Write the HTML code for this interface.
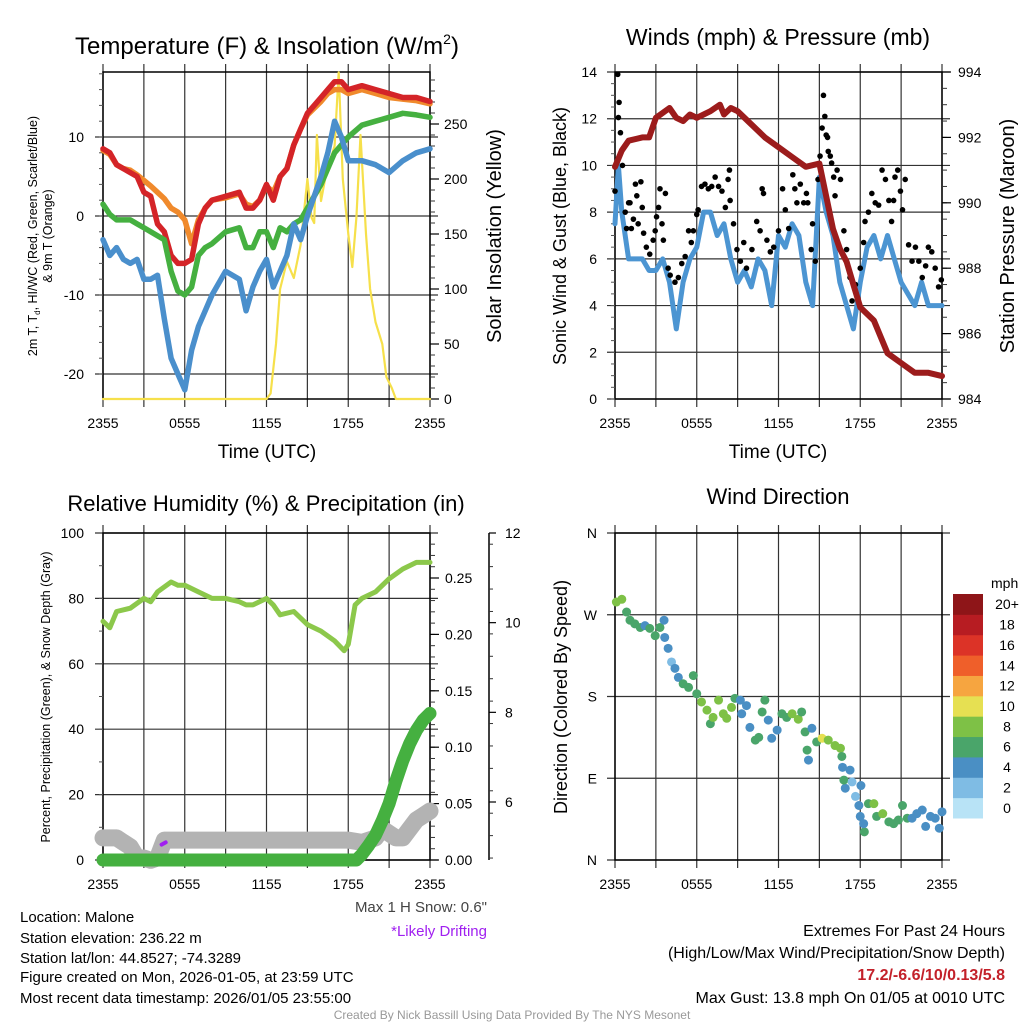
<!DOCTYPE html>
<html><head><meta charset="utf-8">
<style>
html,body{margin:0;padding:0;background:#fff;}
svg{display:block;font-family:"Liberation Sans",sans-serif;}
</style></head>
<body>
<svg id="fig" width="1024" height="1024" viewBox="0 0 1024 1024" xmlns="http://www.w3.org/2000/svg">
<rect width="1024" height="1024" fill="#fff"/>
<text x="267" y="54" font-size="24" text-anchor="middle">Temperature (F) &amp; Insolation (W/m<tspan font-size="14" dy="-10">2</tspan><tspan dy="10">)</tspan></text>
<text x="778" y="45" font-size="23" text-anchor="middle">Winds (mph) &amp; Pressure (mb)</text>
<text x="266" y="511" font-size="22" text-anchor="middle">Relative Humidity (%) &amp; Precipitation (in)</text>
<text x="778" y="504" font-size="22" text-anchor="middle">Wind Direction</text>
<text transform="translate(37,236) rotate(-90)" font-size="12.5" text-anchor="middle">2m T, T<tspan font-size="8" dy="3">d</tspan><tspan dy="-3">, HI/WC (Red, Green, Scarlet/Blue)</tspan></text>
<text transform="translate(52,236) rotate(-90)" font-size="12.5" text-anchor="middle">&amp; 9m T (Orange)</text>
<text transform="translate(501,236) rotate(-90)" font-size="20" text-anchor="middle">Solar Insolation (Yellow)</text>
<text transform="translate(566,236) rotate(-90)" font-size="18" text-anchor="middle">Sonic Wind &amp; Gust (Blue, Black)</text>
<text transform="translate(1014,236) rotate(-90)" font-size="20" text-anchor="middle">Station Pressure (Maroon)</text>
<text transform="translate(50,697) rotate(-90)" font-size="12.5" text-anchor="middle">Percent, Precipitation (Green), &amp; Snow Depth (Gray)</text>
<text transform="translate(567,697) rotate(-90)" font-size="18" text-anchor="middle">Direction (Colored By Speed)</text>
<text x="267" y="458" font-size="19" text-anchor="middle">Time (UTC)</text>
<text x="778" y="458" font-size="19" text-anchor="middle">Time (UTC)</text>
<g font-size="15">
<text x="20" y="922">Location: Malone</text>
<text x="20" y="943">Station elevation: 236.22 m</text>
<text x="20" y="963">Station lat/lon: 44.8527; -74.3289</text>
<text x="20" y="982">Figure created on Mon, 2026-01-05, at 23:59 UTC</text>
<text x="20" y="1003">Most recent data timestamp: 2026/01/05 23:55:00</text>
</g>
<text x="487" y="912" font-size="15" fill="#444" text-anchor="end">Max 1 H Snow: 0.6"</text>
<text x="487" y="936" font-size="15" fill="#a020f0" text-anchor="end">*Likely Drifting</text>
<g font-size="16" text-anchor="end">
<text x="1005" y="936">Extremes For Past 24 Hours</text>
<text x="1005" y="958">(High/Low/Max Wind/Precipitation/Snow Depth)</text>
<text x="1005" y="980" font-weight="bold" fill="#c3212a">17.2/-6.6/10/0.13/5.8</text>
<text x="1005" y="1003">Max Gust: 13.8 mph On 01/05 at 0010 UTC</text>
</g>
<text x="512" y="1019" font-size="12" fill="#999" text-anchor="middle">Created By Nick Bassill Using Data Provided By The NYS Mesonet</text>
</svg>
<script>
// ---------- DATA ----------
const timeTickLabels = ["2355","0555","1155","1755","2355"];
const tempHours = [0,0.5,1,1.5,2,2.5,3,3.5,4,4.5,5,5.5,6,6.5,7,7.5,8,9,10,10.5,11,11.5,12,12.5,13,13.5,14,14.5,15,16,16.5,17,17.5,18,19,20,21,22,23,24];
const redTemp =    [8.5,8,6.5,6,5.5,5,3,2.5,-1,-2,-5,-6,-6,-5.5,-1,1,2,2.5,3,1,1,2,4,2,5,6,9,11,13,15,16,17,17,16,16.5,16,15.5,15,15,14.5];
const orangeTemp = [8.3,7.8,6.5,6,5.8,5.2,4.5,3.8,3,2.2,1,0.5,-0.5,-3.5,-0.5,1,2,2.3,2.8,1.5,1.2,2,3.8,3,5,6,9,11,12.8,14.5,15.5,16,16,15.5,16,15.5,15,14.8,14.6,14.2];
const greenDew =   [1.5,0.2,-0.5,-0.5,-0.5,-1,-1.5,-2,-2.5,-3,-7,-9.5,-10,-9,-5,-4,-3.5,-2,-1.5,-4,-4,-2,-2,-4,-1.5,-2,-1,-0.5,1,4,6,8,9,10,11.5,12,12.5,13,12.8,12.5];
const blueChill =  [-3,-5,-4,-5.5,-6,-5.5,-8,-8,-7.5,-13,-18,-20,-22,-17,-14,-12,-10,-7,-8,-12,-9,-7,-5.5,-9,-7,-5,-1,-3,0,5,8,12,10,7,7,6.5,5.5,7,8,8.5];
const solarHours = [0,12,12.3,12.7,13,13.5,14,14.5,15,15.3,15.5,15.7,16,16.3,16.5,17,17.3,17.6,18,18.3,18.6,18.9,19.3,19.6,20,20.5,20.8,21.2,21.5,24];
const solarVals =  [0,0,5,50,100,125,110,140,200,165,160,240,180,200,210,230,297,200,150,120,165,240,150,100,70,50,20,10,0,0];
const tempTicks = [10,0,-10,-20];
const solarTicks = [0,50,100,150,200,250];

const windHours = [0,0.25,0.5,1,1.5,2,2.5,3,3.5,4,4.5,5,5.5,6,6.5,7,7.5,8,8.5,9,9.5,10,10.5,11,11.5,12,12.5,13,13.5,14,14.5,15,15.5,16,16.5,17,17.5,18,18.5,19,19.5,20,20.5,21,21.5,22,22.5,23,24];
const windSpeed = [7.5,10,8,6,6,6,5.5,5.5,6,5,3,5,6,6.5,8,8,7,7.5,6,5,5.5,4.8,6,5.5,4,7,6.5,7.5,7,5,4,9.5,8,7,5,4,3,5,6.5,7,6,7,6,5,4.5,4,5,4,4];
const gustHours = [0,0.2,0.25,0.3,0.4,0.55,0.75,0.85,1,1.1,1.2,1.35,1.5,1.6,1.7,1.9,2,2.1,2.3,2.55,2.8,2.95,3.05,3.2,3.3,3.45,3.55,3.7,3.9,4.05,4.4,4.65,4.9,5.15,5.4,5.6,5.75,6,6.1,6.35,6.6,6.85,7.1,7.35,7.6,7.85,8.1,8.3,8.4,8.45,8.7,8.95,9.2,9.45,9.65,10.05,10.4,10.65,10.8,10.9,11.15,11.4,11.65,12,12.3,12.5,12.75,13.05,13.2,13.35,13.6,13.85,14.05,14.15,14.4,14.5,14.7,14.9,15.05,15.2,15.3,15.4,15.5,15.6,15.65,15.8,15.9,16.05,16.15,16.3,16.55,16.8,17,17.25,17.4,17.65,18,18.25,18.35,18.6,18.85,19.1,19.35,19.6,19.85,20.1,20.3,20.45,20.55,20.75,20.95,21.1,21.3,21.55,21.8,22.05,22.3,22.55,22.8,23,23.25,23.5,23.75,23.95];
const gustSpeed = [8.9,13.9,12.05,12.7,11.4,10,8,7.3,8.4,8.4,7.3,7.7,9.2,8.7,7.5,9.3,8.2,7.1,6.5,6.2,6.8,7.2,7.8,8.2,9,7.5,6.8,8.8,5.6,5.3,5,5.2,5.8,6.1,7.2,6.7,7.2,7.9,8.1,9.1,9.2,9,9.1,9.5,9.1,8.9,8.2,9.4,9.8,8.5,7.5,6.4,5.9,6.7,5.6,6.4,7.6,7.2,9,8.8,6.8,6.3,6.5,7.2,9,8.1,7.3,9.6,9,8.4,9.2,8.4,8.8,8.4,6.4,7.5,5.9,9.4,10.4,11.6,13,12.1,11.3,11.2,10.6,10.4,10.1,9.5,8.7,9.8,9.4,7.2,6.4,5.2,4.2,4.9,5.6,6.7,7.6,8,8.8,8.4,8.3,9.8,9.4,8.5,7.6,8.5,9.5,9.8,8.9,8.1,9.4,6.6,5.9,6.5,5.9,5.2,5.7,6.5,6.3,5.6,4.8,5.1];
const presHours = [0,0.5,1,2,2.5,3,4,4.5,5,5.5,6,7,7.7,8,8.5,9,10,11,12,13,14,15,15.5,16,16.5,17,17.5,18,19,19.5,20,21,22,23,24];
const pressure = [991.1,991.6,991.9,992.0,992.0,992.6,992.9,992.6,992.5,992.7,992.6,992.8,993.0,992.7,992.9,992.8,992.4,992.0,991.7,991.4,991.1,991.2,990.2,989.2,988.6,988.2,987.5,986.8,986.4,985.9,985.4,985.1,984.8,984.8,984.7];
const windTicks = [0,2,4,6,8,10,12,14];
const presTicks = [984,986,988,990,992,994];

const rhHours = [0,0.5,1,2,3,3.5,4,5,5.5,6,7,8,9,10,10.5,11,12,12.5,13,14,15,16,17,17.7,18,18.5,19,20,21,22,23,24];
const rhVals =  [73,71,76,77,80,79,82,85,84,84,82,80,80,79,78,78,80,78,75,76,72,70,67,64,66,78,80,82,86,89,91,91];
const precipHours = [0,18.6,19,19.5,20,20.5,21,21.5,22,22.5,23,23.5,24];
const precipVals =  [0,0,0.005,0.013,0.022,0.035,0.05,0.07,0.088,0.103,0.115,0.124,0.13];
const snowHours = [0,1,1.5,2,2.5,3,3.5,4,4.5,18,19,20,20.5,21,21.5,22,22.5,23,23.5,24];
const snowDepth = [5.2,5.2,5.1,5.0,4.75,4.75,4.7,4.75,5.15,5.15,5.1,5.2,5.4,5.3,5.2,5.2,5.4,5.6,5.7,5.8];
const driftHours = [4.3,4.6];
const driftDepth = [5.05,5.1];
const rhTicks = [0,20,40,60,80,100];
const precipTicks = ["0.00","0.05","0.10","0.15","0.20","0.25"];
const snowTicks = [6,8,10,12];

const dirHours = [0.1,0.5,0.85,1.1,1.45,1.85,2.2,2.55,2.95,3.3,3.6,3.65,3.9,4.15,4.4,4.65,5.0,5.4,5.75,6,6.35,6.75,7,7.2,7.6,7.95,8.2,8.55,8.8,9.2,9.3,9.65,9.9,10.3,10.55,10.8,11,11.25,11.5,11.9,12.25,12.6,13,13.45,13.7,13.95,14.1,14.2,14.45,14.8,15.2,15.65,16.15,16.55,16.65,16.7,16.9,16.8,17.25,17.4,17.65,17.9,18.05,18,18.3,18.25,18.6,19,19.2,19.65,20.1,20.45,20.8,21.1,21.45,21.8,22.15,22.55,22.8,23.15,23.5,23.8,24];
const dirDeg = [284,287,273,264,260,256,258,255,247,256,264,245,233,218,211,201,194,190,203,183,174,165,150,157,176,161,156,168,178,176,161,170,146,132,135,163,176,154,134,143,161,157,161,155,163,141,121,110,145,130,134,132,126,123,114,102,79,88,99,86,70,60,82,48,31,40,62,62,48,51,42,40,44,60,46,46,51,55,37,48,46,35,53];
const dirSpeed = [9,8,6,6,6,6,4,6,6,6,4,4,4,2,4,4,6,6,6,6,8,8,6,8,8,8,8,8,6,4,4,4,4,6,6,6,6,4,4,4,6,6,8,8,6,6,6,4,4,6,10,8,8,8,6,4,4,6,4,2,2,4,4,4,6,4,6,8,6,8,6,6,6,6,6,4,4,4,4,4,4,4,4];
const dirTicks = ["N","E","S","W","N"];
const colorbarLabels = ["0","2","4","6","8","10","12","14","16","18","20+"];
const colorbarColors = ["#b8e3f6","#7fbce4","#4a8fc4","#4aa56a","#7ec146","#e6e052","#f6a540","#ef5f2a","#dc3327","#b71c22","#8e1518"];

// ---------- HELPERS ----------
const NS = "http://www.w3.org/2000/svg";
const svg = document.getElementById("fig");
function el(tag, attrs, parent){
  const e = document.createElementNS(NS, tag);
  for (const k in attrs) e.setAttribute(k, attrs[k]);
  (parent||svg).appendChild(e);
  return e;
}
function xScale(x0, x1){ return h => x0 + (x1 - x0) * h / 24; }
function lin(v0, v1, p0, p1){ return v => p0 + (v - v0) * (p1 - p0) / (v1 - v0); }
function pathD(xs, ys, fx, fy){
  return xs.map((h,i)=>(i?"L":"M")+fx(h).toFixed(1)+","+fy(ys[i]).toFixed(1)).join("");
}
function frame(name, L, R, T, B, hTicksY){
  const g = el("g", {});
  
  
  const fx = xScale(L, R);
  for (let h = 0; h <= 24; h += 3){
    const ln = el("line", {x1:fx(h), x2:fx(h), y1:T-8, y2:B+8, stroke:"#333", "stroke-width":1.2}, g);
    
    
  }
  hTicksY.forEach(y=>{
    const ln = el("line", {x1:L-8, x2:R+8, y1:y, y2:y, stroke:"#333", "stroke-width":1.2}, g);
    
    
  });
  const bx = el("rect", {x:L, y:T, width:R-L, height:B-T, fill:"none", stroke:"#000", "stroke-width":1.5}, g);
  
  
  timeTickLabels.forEach((lab,i)=>{
    const t = el("text", {x:fx(i*6), y:B+29, "font-size":14, "text-anchor":"middle"}, g);
    
    
    t.textContent = lab;
  });
  return fx;
}
function leftMinor(L, T, B, step){
  for (let y = B; y >= T; y -= step){
    const ln = el("line", {x1:L-4, x2:L, y1:y, y2:y, stroke:"#555", "stroke-width":1});
    
    
  }
}
function yLabels(vals, fy, x, anchor, name, fmt){
  vals.forEach(v=>{
    const t = el("text", {x:x, y:fy(v)+5, "font-size":14, "text-anchor":anchor});
    
    
    t.textContent = fmt ? fmt(v) : v;
  });
}
function rightTicks(vals, fy, x, minorStep, lo, hi){
  for (let v = lo; v <= hi + 1e-9; v += minorStep){
    const ln = el("line", {x1:x, x2:x+5, y1:fy(v), y2:fy(v), stroke:"#333", "stroke-width":1});
    
    
  }
  vals.forEach(v=>{
    const ln = el("line", {x1:x, x2:x+9, y1:fy(v), y2:fy(v), stroke:"#000", "stroke-width":1.2});
    
    
  });
}
function line(name, xs, ys, fx, fy, color, w){
  const p = el("path", {d:pathD(xs, ys, fx, fy), fill:"none", stroke:color, "stroke-width":w, "stroke-linejoin":"round", "stroke-linecap":"round"});
  
  
  return p;
}

// ---------- PANEL 1 ----------
const fx1 = xScale(103, 430);
const fyT = lin(0, 10, 216, 137);
const fyS = lin(0, 250, 399, 124);
frame("temperature", 103, 430, 72, 399, tempTicks.map(fyT));
leftMinor(103, 72, 374, 15.8);
yLabels(tempTicks, fyT, 84, "end", "temperature-y-tick");
rightTicks(solarTicks, fyS, 430, 10, 0, 290);
yLabels(solarTicks, fyS, 444, "start", "solar-y-tick");
line("solar-insolation-line", solarHours, solarVals, fx1, fyS, "#f6e04b", 2.2);
line("orange-9m-temp-line", tempHours, orangeTemp, fx1, fyT, "#f08a2c", 5.5);
line("red-2m-temp-line", tempHours, redTemp, fx1, fyT, "#d42428", 5.5);
line("green-dewpoint-line", tempHours, greenDew, fx1, fyT, "#45b040", 5.5);
line("blue-windchill-line", tempHours, blueChill, fx1, fyT, "#4a8fcc", 5.5);

// ---------- PANEL 2 ----------
const fx2 = xScale(615, 942);
const fyW = lin(0, 14, 399, 72);
const fyP = lin(984, 994, 399, 72);
frame("winds", 615, 942, 72, 399, windTicks.map(fyW));
leftMinor(615, 72, 399, 11.68);
yLabels(windTicks, fyW, 597, "end", "wind-y-tick");
rightTicks(presTicks, fyP, 942, 0.5, 984, 994);
yLabels(presTicks, fyP, 958, "start", "pressure-y-tick");
line("sonic-wind-line", windHours, windSpeed, fx2, fyW, "#4c95d2", 5);
gustHours.forEach((h,i)=>{
  const c = el("circle", {cx:fx2(h), cy:fyW(gustSpeed[i]), r:2.8, fill:"#000"});
  
  
});
line("station-pressure-line", presHours, pressure, fx2, fyP, "#9c1c1c", 6);

// ---------- PANEL 3 ----------
const fx3 = xScale(103, 430);
const fyR = lin(0, 100, 860, 533);
const fyPr = lin(0, 0.25, 860, 578);
const fySn = lin(6, 12, 802, 533);
frame("humidity", 103, 430, 533, 860, rhTicks.map(fyR));
leftMinor(103, 533, 860, 32.7);
yLabels(rhTicks, fyR, 84, "end", "humidity-y-tick");
rightTicks(precipTicks.map(Number), fyPr, 430, 0.01, 0, 0.28);
yLabels(precipTicks.map(Number), fyPr, 445, "start", "precip-y-tick", v=>v.toFixed(2));
const snowAxis = el("line", {x1:489, x2:489, y1:533, y2:860, stroke:"#000", "stroke-width":1.5});


for (let v = 4.75; v <= 12.01; v += 0.5){
  const ln = el("line", {x1:489, x2:493, y1:fySn(v), y2:fySn(v), stroke:"#333"});
  
  
}
snowTicks.forEach(v=>{
  const ln = el("line", {x1:489, x2:496, y1:fySn(v), y2:fySn(v), stroke:"#000", "stroke-width":1.2});
  
  
});
yLabels(snowTicks, fySn, 505, "start", "snow-y-tick");
line("snow-depth-line", snowHours, snowDepth, fx3, fySn, "#b3b3b3", 17);
line("drifting-marker", driftHours, driftDepth, fx3, fySn, "#a020f0", 4);
line("precipitation-line", precipHours, precipVals, fx3, fyPr, "#45b040", 13);
line("relative-humidity-line", rhHours, rhVals, fx3, fyR, "#8cc84b", 5);

// ---------- PANEL 4 ----------
const fx4 = xScale(615, 942);
const fyD = lin(0, 360, 860, 533);
frame("wind-direction", 615, 942, 533, 860, [0,90,180,270,360].map(fyD));
dirTicks.forEach((lab,i)=>{
  const t = el("text", {x:597, y:fyD(i*90)+5, "font-size":14, "text-anchor":"end"});
  
  
  t.textContent = lab;
});
dirHours.forEach((h,i)=>{
  const idx = Math.min(10, Math.floor(dirSpeed[i]/2));
  const c = el("circle", {cx:fx4(h), cy:fyD(dirDeg[i]), r:4.5, fill:colorbarColors[idx]});
  
  
});
const cbTitle = el("text", {x:991, y:588, "font-size":14});


cbTitle.textContent = "mph";
const boxH = (818 - 594) / colorbarColors.length;
colorbarColors.forEach((c,i)=>{
  const y = 818 - (i+1)*boxH;
  const r = el("rect", {x:953, y:y, width:30, height:boxH+0.5, fill:c});
  
  
  const t = el("text", {x:1007, y:y+boxH/2+5, "font-size":14, "text-anchor":"middle"});
  
  
  t.textContent = colorbarLabels[i];
});
</script>
</body></html>
